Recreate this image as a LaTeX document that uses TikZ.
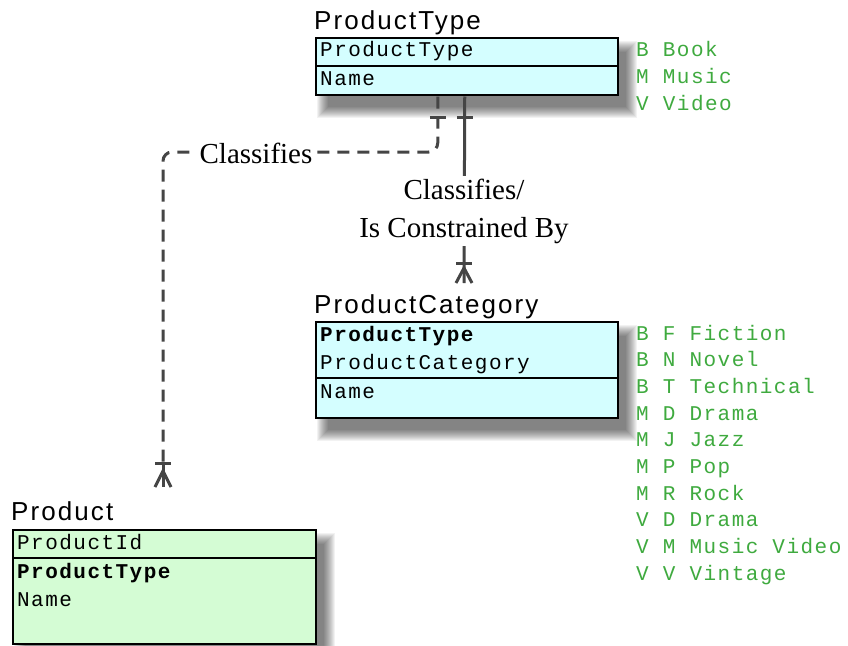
\documentclass[tikz,border=0pt]{standalone}
\usepackage{fontspec}
\usetikzlibrary{calc}
\newfontfamily\monof[LetterSpace=7]{Liberation Mono}
\newfontfamily\titlef[LetterSpace=8]{Liberation Sans}
\newfontfamily\labf{Liberation Serif}
\definecolor{cyanfill}{HTML}{D4FEFF}
\definecolor{greenfill}{HTML}{D4FCD4}
\definecolor{annot}{HTML}{3FAA3F}
\definecolor{conn}{HTML}{454545}
\newcommand{\eshadow}[4]{\foreach \k in {0,...,11}{\fill[black,opacity=0.05] ({#1+2+\k},{#2+4+\k}) rectangle ({#3+20-\k},{#4+24-\k});}}
\tikzset{
  ebox/.style={draw=black, line width=1.5pt, rectangle, inner sep=0pt, anchor=north west},
  divider/.style={draw=black, line width=1.5pt},
  field/.style={anchor=base west, inner sep=0pt, font={\fontsize{21}{25}\selectfont\monof}},
  keyfield/.style={field, font={\fontsize{21}{25}\selectfont\monof\bfseries}},
  annotation/.style={field, text=annot},
  etitle/.style={anchor=base west, inner sep=0pt, font={\fontsize{26}{30}\selectfont\titlef}},
  rellabel/.style={fill=white, inner sep=3pt, align=center, font={\fontsize{29}{38}\selectfont\labf}},
  connline/.style={draw=conn, line width=3pt},
  dashconn/.style={connline, dash pattern=on 12pt off 8pt},
  markline/.style={draw=conn, line width=3pt}
}
\begin{document}
\begin{tikzpicture}[x=1pt,y=-1pt]
\useasboundingbox[fill=white] (0,0) rectangle (848,645);

% ---------- shadows ----------
\eshadow{315}{37}{617}{94}
\eshadow{315}{321}{617}{417}
\eshadow{12}{529}{315}{643}

% ---------- ProductType ----------
\node[etitle] (ptt) at (314,29) {ProductType};
\node[ebox, fill=cyanfill, minimum width=302pt, minimum height=57pt] (pt) at (315,37) {};
\draw[divider] (315,66) -- (617,66);
\node[field] (pt1) at (320,56) {ProductType};
\node[field] (pt2) at (320,85) {Name};
\node[annotation] (a1) at (636,56) {B Book};
\node[annotation] (a2) at (636,83) {M Music};
\node[annotation] (a3) at (636,110) {V Video};

% ---------- ProductCategory ----------
\node[etitle] (pct) at (314,313) {ProductCategory};
\node[ebox, fill=cyanfill, minimum width=302pt, minimum height=96pt] (pc) at (315,321) {};
\draw[divider] (315,378) -- (617,378);
\node[keyfield] (pc1) at (320,341) {ProductType};
\node[field] (pc2) at (320,369) {ProductCategory};
\node[field] (pc3) at (320,398) {Name};
\foreach \t [count=\i from 0] in {B F Fiction, B N Novel, B T Technical, M D Drama, M J Jazz, M P Pop, M R Rock, V D Drama, V M Music Video, V V Vintage}{
  \node[annotation] (b\i) at (636,340+26.7*\i) {\t};
}

% ---------- Product ----------
\node[etitle] (prt) at (11,520) {Product};
\node[ebox, fill=greenfill, minimum width=303pt, minimum height=114pt] (pr) at (12,529) {};
\draw[divider] (12,558) -- (315,558);
\node[field] (pr1) at (17,549) {ProductId};
\node[keyfield] (pr2) at (17,578) {ProductType};
\node[field] (pr3) at (17,606) {Name};

% ---------- connectors ----------
\coordinate (d0) at ($(pt.south)+(-29,1)$);
\coordinate (d1) at (163,465);
\draw[dashconn, rounded corners=9pt] (d0) -- (d0 |- 0,152) -- (d1 |- 0,152) -- (d1);
\node[rellabel, inner sep=4pt] (lab1) at (256,153) {Classifies};

\coordinate (s0) at ($(pt.south)+(-2,1)$);
\coordinate (s1) at (464,283);
\draw[connline] (s0) -- (s1);
\node[rellabel] (lab2) at (464,211) {Classifies/\\Is Constrained By};

% one marks at ProductType
\draw[markline] ($(d0)+(-8,21)$) -- ++(16,0);
\draw[markline] ($(s0)+(-8,21)$) -- ++(16,0);

% crow's feet (one or more)
\draw[markline] ($(s1)+(-8,-20)$) -- ++(16,0);
\draw[markline, line join=miter] ($(s1)+(-8,0)$) -- ($(s1)+(0,-15)$) -- ($(s1)+(8,0)$);
\draw[markline] ($(d1)+(-8,-2)$) -- ++(16,0);
\draw[markline] ($(d1)+(0,-2)$) -- ++(0,24);
\draw[markline, line join=miter] ($(d1)+(-8,22)$) -- ($(d1)+(0,6)$) -- ($(d1)+(8,22)$);
\end{tikzpicture}
\end{document}
